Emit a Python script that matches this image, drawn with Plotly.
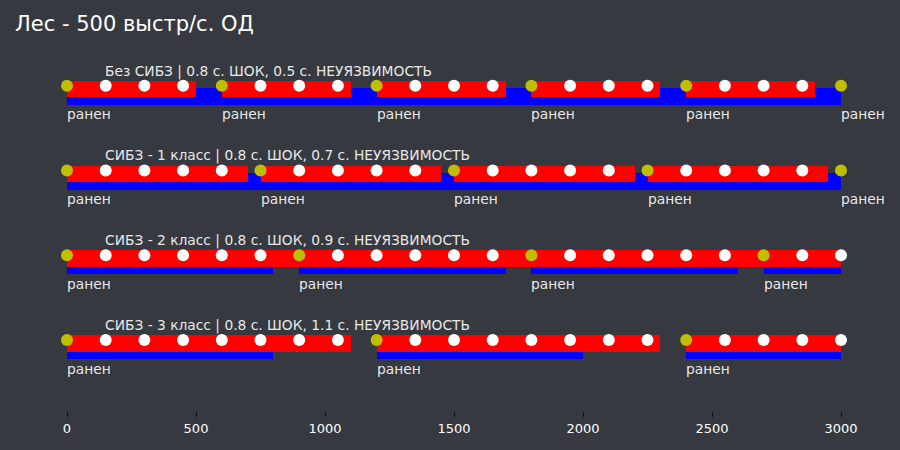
import plotly.graph_objects as go

# ---------------- data ----------------
title_text = "Лес - 500 выстр/с. ОД"
row_titles = [
    "Без СИБЗ | 0.8 с. ШОК, 0.5 с. НЕУЯЗВИМОСТЬ",
    "СИБЗ - 1 класс | 0.8 с. ШОК, 0.7 с. НЕУЯЗВИМОСТЬ",
    "СИБЗ - 2 класс | 0.8 с. ШОК, 0.9 с. НЕУЯЗВИМОСТЬ",
    "СИБЗ - 3 класс | 0.8 с. ШОК, 1.1 с. НЕУЯЗВИМОСТЬ",
]
shots = [0, 150, 300, 450, 600, 750, 900, 1050, 1200, 1350, 1500,
         1650, 1800, 1950, 2100, 2250, 2400, 2550, 2700, 2850, 3000]
hits = [
    [0, 600, 1200, 1800, 2400, 3000],
    [0, 750, 1500, 2250, 3000],
    [0, 900, 1800, 2700],
    [0, 1200, 2400],
]
# invulnerability (red) segments: start, end
red_start = [
    [0, 600, 1200, 1800, 2400],
    [0, 750, 1500, 2250],
    [0, 900, 1800, 2700],
    [0, 1200, 2400],
]
red_end = [
    [500, 1100, 1700, 2300, 2900],
    [700, 1450, 2200, 2950],
    [900, 1800, 2700, 3000],
    [1100, 2300, 3000],
]
# shock (blue) segments: start, end
blue_start = [
    [0],
    [0],
    [0, 900, 1800, 2700],
    [0, 1200, 2400],
]
blue_end = [
    [3000],
    [3000],
    [800, 1700, 2600, 3000],
    [800, 2000, 3000],
]
hit_label = "ранен"
x_ticks = [0, 500, 1000, 1500, 2000, 2500, 3000]

# ---------------- style ----------------
BG = "#36393f"
RED = "#ff0000"
BLUE = "#0000ff"
YEL = "#bfbf00"
WHITE = "#ffffff"
TXT = "#e8e8e8"
FONT = "DejaVu Sans"

RED_OFF, RED_W = 0.0395, 0.197
BLUE_OFF, BLUE_W = 0.124, 0.200
LABEL_OFF = 0.335
TITLE_OFF = -0.172

fig = go.Figure()

for i in range(len(row_titles)):
    bl = [e - s for s, e in zip(blue_start[i], blue_end[i])]
    fig.add_trace(go.Bar(
        orientation="h", base=blue_start[i], x=bl,
        y=[i + BLUE_OFF] * len(bl), width=BLUE_W,
        marker=dict(color=BLUE, line=dict(width=0)), showlegend=False,
    ))
for i in range(len(row_titles)):
    rl = [e - s for s, e in zip(red_start[i], red_end[i])]
    fig.add_trace(go.Bar(
        orientation="h", base=red_start[i], x=rl,
        y=[i + RED_OFF] * len(rl), width=RED_W,
        marker=dict(color=RED, line=dict(width=0)), showlegend=False,
    ))

for i in range(len(row_titles)):
    miss = [s for s in shots if s not in hits[i]]
    fig.add_trace(go.Scatter(
        x=miss, y=[i] * len(miss), mode="markers", cliponaxis=False,
        marker=dict(color=WHITE, size=12, line=dict(width=0)), showlegend=False,
    ))
    fig.add_trace(go.Scatter(
        x=hits[i], y=[i] * len(hits[i]), mode="markers", cliponaxis=False,
        marker=dict(color=YEL, size=12, line=dict(width=0)), showlegend=False,
    ))
    fig.add_annotation(
        x=150, y=i + TITLE_OFF, text=row_titles[i], showarrow=False,
        xanchor="left", yanchor="middle", xshift=-3,
        font=dict(family=FONT, size=13.8, color=TXT),
    )
    for h in hits[i]:
        fig.add_annotation(
            x=h, y=i + LABEL_OFF, text=hit_label, showarrow=False,
            xanchor="left", yanchor="middle", xshift=-2,
            font=dict(family=FONT, size=13.8, color=TXT),
        )

fig.update_layout(
    width=900, height=450,
    paper_bgcolor=BG, plot_bgcolor=BG,
    margin=dict(l=40, r=30, t=45, b=39),
    barmode="overlay",
    bargap=0,
    title=dict(text=title_text, xref="container", yref="container",
               x=15 / 900, y=1 - 24 / 450, xanchor="left", yanchor="middle",
               font=dict(family=FONT, size=21, color=WHITE)),
    xaxis=dict(range=[-104.65, 3112.4], tickvals=x_ticks,
               showgrid=False, zeroline=False, showline=False,
               ticks="outside", ticklen=5, tickwidth=1, tickcolor="#111111",
               tickfont=dict(family=FONT, size=13, color=WHITE)),
    yaxis=dict(range=[3.836, -0.48], visible=False, showgrid=False,
               zeroline=False),
)

fig.write_html("out.html")
